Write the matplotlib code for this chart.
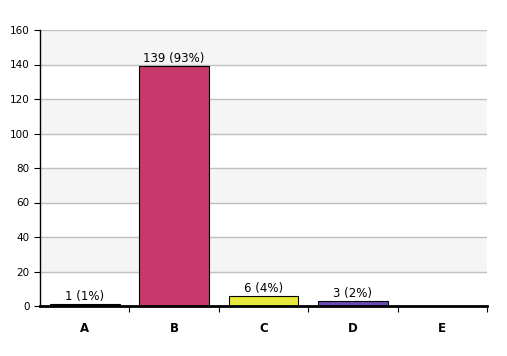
import numpy as np
import matplotlib.pyplot as plt

categories = ['A', 'B', 'C', 'D', 'E']
counts = [1, 139, 6, 3, 0]
percents = [1, 93, 4, 2, 0]
colors = ['#202020', '#c8386a', '#e8e83a', '#6a4ab8', '#808080']

fig = plt.figure(figsize=(5.07, 3.56), dpi=100)
ax = fig.add_axes([40/507, 50/356, 447/507, 276/356])

# bandes alternees
for y0 in range(20, 160, 40):
    ax.axhspan(y0, y0 + 20, color='#f5f5f5', zorder=0)
for y in range(20, 161, 20):
    ax.axhline(y, color='#c0c0c0', lw=1, zorder=1)

x = np.arange(len(categories))
ax.bar(x, counts, width=0.78, color=colors, edgecolor='black', lw=0.8, zorder=2)

for i in range(len(categories)):
    if counts[i] > 0:
        ax.text(x[i], counts[i] + 0.5, '%d (%d%%)' % (counts[i], percents[i]),
                ha='center', va='bottom', fontsize=8.5, zorder=3)

ax.set_xlim(-0.5, 4.5)
ax.set_ylim(0, 160)
ax.set_yticks(range(0, 161, 20))
ax.tick_params(axis='y', labelsize=7.5, length=4, direction='out')
ax.set_xticks(np.arange(0.5, 4.6, 1))
ax.set_xticklabels([])
ax.tick_params(axis='x', length=4, direction='out')
for i, c in enumerate(categories):
    ax.text(x[i], -9, c, ha='center', va='top', fontsize=8.5, fontweight='bold')

ax.spines['top'].set_visible(False)
ax.spines['right'].set_visible(False)
ax.spines['bottom'].set_linewidth(2)
ax.spines['left'].set_linewidth(1)

fig.savefig('out.png', dpi=100)
